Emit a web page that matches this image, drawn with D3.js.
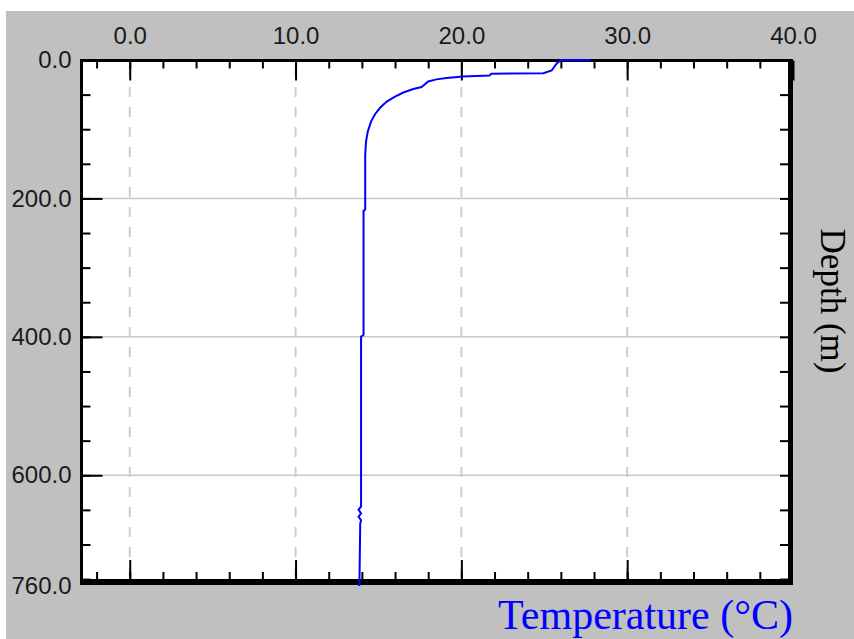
<!DOCTYPE html>
<html>
<head>
<meta charset="utf-8">
<script src="https://cdn.jsdelivr.net/npm/d3@7"></script>
<style>
  body { margin: 0; background: #fff; }
  svg { display: block; }
</style>
</head>
<body>
<div id="chart"></div>
<script>
// Temperature profile
const depth = [0, 0, 5, 15, 19, 20, 22.5, 24, 26, 28, 31, 39, 42, 47, 53, 60, 69, 78, 89, 104, 118, 137,
  216, 218, 397, 400, 645, 650, 655, 660, 665, 670, 760];
const temperature = [27.8, 26.0, 25.75, 25.45, 24.95, 21.8, 21.7, 20.1, 19.1, 18.5, 18.0, 17.6, 17.1, 16.5, 16.0,
  15.5, 15.1, 14.8, 14.55, 14.35, 14.25, 14.2, 14.2, 14.1, 14.1, 13.95, 13.95, 13.8, 13.95, 13.8, 13.95, 13.9, 13.85];

const xMajor = [0, 10, 20, 30, 40];
const xMinor = d3.range(-2, 40, 2);
const yLabels = [0, 200, 400, 600, 760];
const yMajor = [200, 400, 600];
const yMinor = d3.range(50, 760, 50);

const width = 854, height = 639;

const svg = d3.select('#chart').append('svg')
  .attr('width', width)
  .attr('height', height);

// grey panel
svg.append('rect').attr('x', 6).attr('y', 11)
  .attr('width', width - 6).attr('height', height - 11)
  .attr('fill', '#c0c0c0');

const x = d3.scaleLinear().domain([-3, 40]).range([80, 793]);
const y = d3.scaleLinear().domain([0, 760]).range([60, 586]);

// plot area
svg.append('rect').attr('x', 80).attr('y', 59)
  .attr('width', 713).attr('height', 526).attr('fill', '#fff');

// vertical dashed grid
svg.append('g').selectAll('line')
  .data(xMajor.filter(d => d < 40))
  .join('line')
  .attr('x1', d => x(d)).attr('x2', d => x(d))
  .attr('y1', 60).attr('y2', 579)
  .attr('stroke', '#cfcfcf').attr('stroke-width', 2)
  .attr('stroke-dasharray', '10,10').attr('stroke-dashoffset', 13);

// horizontal grid
svg.append('g').selectAll('line')
  .data(yMajor)
  .join('line')
  .attr('x1', 83).attr('x2', 788)
  .attr('y1', d => y(d)).attr('y2', d => y(d))
  .attr('stroke', '#c8c8c8').attr('stroke-width', 1.5);

const tickStyle = g => {
  g.select('.domain').remove();
  g.selectAll('.tick line').attr('stroke', '#000').attr('stroke-width', 2);
  g.selectAll('.tick text')
    .attr('fill', '#1a1a1a')
    .style('font-family', '"Liberation Sans", Arial, sans-serif')
    .style('font-size', '24px');
};

// top axis: minor, major + labels
svg.append('g').attr('transform', 'translate(0,60.5)')
  .call(d3.axisTop(x).tickValues(xMinor).tickSize(-8).tickFormat(''))
  .call(tickStyle);
svg.append('g').attr('transform', 'translate(0,60.5)')
  .call(d3.axisTop(x).tickValues(xMajor).tickSize(-20).tickPadding(17).tickFormat(d3.format('.1f')))
  .call(tickStyle);

// bottom axis ticks (pointing up)
svg.append('g').attr('transform', 'translate(0,579)')
  .call(d3.axisBottom(x).tickValues(xMinor).tickSize(-7).tickFormat(''))
  .call(tickStyle);
svg.append('g').attr('transform', 'translate(0,579)')
  .call(d3.axisBottom(x).tickValues(xMajor.filter(d => d < 40)).tickSize(-19).tickFormat(''))
  .call(tickStyle);

// left axis
svg.append('g').attr('transform', 'translate(81.5,0)')
  .call(d3.axisLeft(y).tickValues(yMinor).tickSize(-9).tickFormat(''))
  .call(tickStyle);
svg.append('g').attr('transform', 'translate(81.5,0)')
  .call(d3.axisLeft(y).tickValues(yMajor).tickSize(-21).tickFormat(''))
  .call(tickStyle);
svg.append('g').attr('transform', 'translate(81.5,0)')
  .call(d3.axisLeft(y).tickValues(yLabels).tickSize(0).tickPadding(10).tickFormat(d3.format('.1f')))
  .call(tickStyle);

// right axis ticks (pointing left)
svg.append('g').attr('transform', 'translate(788,0)')
  .call(d3.axisRight(y).tickValues(yMinor).tickSize(-8).tickFormat(''))
  .call(tickStyle);

// frame (heavier on the right and bottom)
const frame = svg.append('g').attr('stroke', '#000');
frame.append('line').attr('x1', 80).attr('x2', 793).attr('y1', 60.5).attr('y2', 60.5).attr('stroke-width', 3);
frame.append('line').attr('x1', 81.5).attr('x2', 81.5).attr('y1', 59).attr('y2', 585).attr('stroke-width', 3);
frame.append('line').attr('x1', 790.5).attr('x2', 790.5).attr('y1', 59).attr('y2', 585).attr('stroke-width', 5);
frame.append('line').attr('x1', 80).attr('x2', 793).attr('y1', 582).attr('y2', 582).attr('stroke-width', 6);

// profile line
const profile = depth.map((d, i) => ({ depth: d, temp: temperature[i] }));
const line = d3.line().x(d => x(d.temp)).y(d => y(d.depth));
svg.append('path')
  .datum(profile)
  .attr('d', line)
  .attr('fill', 'none')
  .attr('stroke', '#0000ff')
  .attr('stroke-width', 2);

// axis titles
svg.append('text')
  .attr('x', 793).attr('y', 629)
  .attr('text-anchor', 'end')
  .attr('fill', '#0000ff')
  .style('font-family', '"Liberation Serif", "Times New Roman", serif')
  .style('font-size', '42px')
  .text('Temperature (°C)');

svg.append('text')
  .attr('transform', 'translate(821,301) rotate(90)')
  .attr('text-anchor', 'middle')
  .attr('fill', '#000')
  .style('font-family', '"Liberation Serif", "Times New Roman", serif')
  .style('font-size', '35px')
  .text('Depth (m)');
</script>
</body>
</html>
